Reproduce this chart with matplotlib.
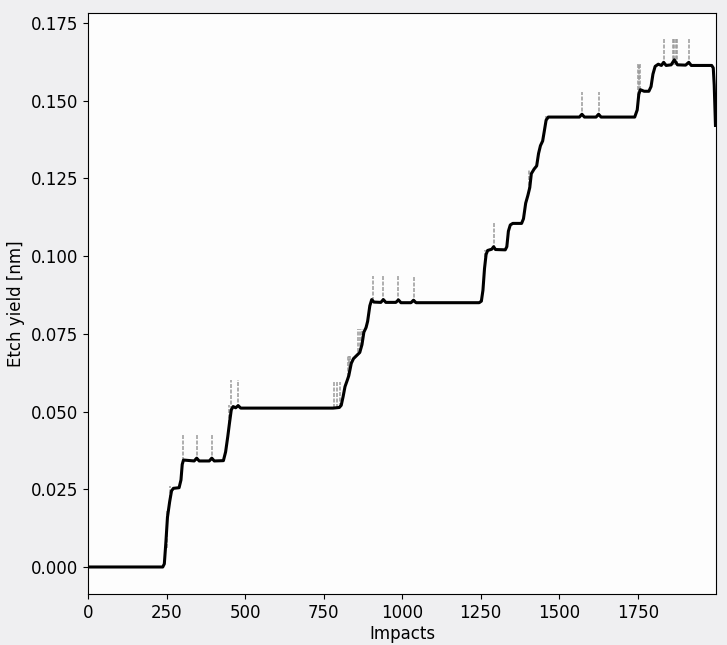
import numpy as np
import matplotlib
matplotlib.use("Agg")
import matplotlib.pyplot as plt

# smoothed etch yield (black curve)
impacts = [0, 238, 243, 248, 253, 260, 266, 272, 290, 296, 300, 304, 338, 346, 354,
           386, 394, 402, 431, 438, 445, 450, 456, 462, 470, 478, 486, 780, 790, 800,
           806, 812, 818, 825, 830, 838, 845, 855, 865, 872, 878, 885, 890, 897, 903,
           910, 932, 940, 948, 980, 988, 996, 1028, 1036, 1044, 1245, 1252, 1257, 1262,
           1267, 1272, 1285, 1291, 1297, 1328, 1333, 1338, 1344, 1352, 1380, 1386, 1393,
           1400, 1406, 1411, 1420, 1428, 1434, 1440, 1447, 1452, 1458, 1465, 1564, 1572,
           1580, 1617, 1625, 1633, 1740, 1748, 1753, 1758, 1770, 1785, 1792, 1798, 1805,
           1815, 1825, 1832, 1840, 1856, 1866, 1876, 1902, 1912, 1920, 1985, 1990, 1993,
           1997]
etch_yield = [0.0, 0.0, 0.001, 0.008, 0.016, 0.021, 0.0245, 0.0253, 0.0255, 0.028,
              0.033, 0.0344, 0.0341, 0.0350, 0.0341, 0.0341, 0.0350, 0.0341, 0.0342,
              0.037, 0.042, 0.046, 0.0505, 0.0516, 0.0512, 0.0519, 0.0511, 0.0511,
              0.0512, 0.0513, 0.052, 0.0548, 0.058, 0.060, 0.0615, 0.0655, 0.067, 0.068,
              0.069, 0.0715, 0.0755, 0.077, 0.079, 0.084, 0.0860, 0.0852, 0.0851,
              0.0860, 0.0851, 0.0851, 0.0859, 0.085, 0.085, 0.0858, 0.085, 0.085,
              0.0855, 0.089, 0.096, 0.1005, 0.1018, 0.1022, 0.1030, 0.1021, 0.102,
              0.103, 0.108, 0.110, 0.1105, 0.1105, 0.112, 0.117, 0.1195, 0.122, 0.1265,
              0.128, 0.129, 0.133, 0.1355, 0.137, 0.140, 0.1437, 0.1447, 0.1447, 0.1456,
              0.1447, 0.1447, 0.1456, 0.1447, 0.1447, 0.147, 0.152, 0.1535, 0.153,
              0.153, 0.1545, 0.1585, 0.161, 0.1617, 0.1613, 0.1623, 0.1613, 0.1615,
              0.1631, 0.1615, 0.1614, 0.1623, 0.1613, 0.1613, 0.1605, 0.155, 0.142]

# raw spikes (grey dashed), position, base and top
spike_x = [250, 262, 302, 346, 394, 448, 456, 478, 784, 793, 803, 829, 832, 835,
           860, 866, 872, 907, 940, 988, 1036, 1262, 1291, 1404, 1458, 1572, 1625,
           1752, 1755, 1758, 1832, 1862, 1866, 1870, 1874, 1912]
spike_base = [0.006, 0.022, 0.0342, 0.0342, 0.0342, 0.046, 0.0505, 0.0512, 0.0512,
              0.0512, 0.0513, 0.061, 0.062, 0.063, 0.069, 0.069, 0.071, 0.0855, 0.0852,
              0.0852, 0.085, 0.096, 0.1022, 0.121, 0.1437, 0.1447, 0.1447, 0.150,
              0.153, 0.1535, 0.1615, 0.1615, 0.1615, 0.1615, 0.1615, 0.1615]
spike_top = [0.018, 0.026, 0.0425, 0.0425, 0.0425, 0.052, 0.060, 0.060, 0.0594,
             0.0594, 0.0594, 0.068, 0.068, 0.068, 0.0767, 0.0767, 0.0767, 0.0935,
             0.0935, 0.0935, 0.0935, 0.102, 0.1107, 0.128, 0.1453, 0.1527, 0.1527,
             0.1617, 0.1617, 0.1617, 0.170, 0.170, 0.170, 0.170, 0.170, 0.170]

fig = plt.figure(figsize=(7.27, 6.45), dpi=100, facecolor='#efeff1')
ax = fig.add_axes([0.121, 0.079, 0.864, 0.901])
ax.set_facecolor('#fdfdfd')

sp = ax.vlines(spike_x, spike_base, spike_top, colors='0.6', lw=1.1)
sp.set_linestyle((0, (2.6, 1.0)))
ax.plot(impacts, etch_yield, color='black', lw=2.2)

ax.set_xlim(0, 1999)
ax.set_ylim(-0.0087, 0.1782)
ax.set_xticks(np.arange(0, 2000, 250))
ax.set_yticks(np.arange(0, 0.176, 0.025))
ax.yaxis.set_major_formatter(matplotlib.ticker.FormatStrFormatter('%.3f'))
ax.tick_params(labelsize=12)
ax.set_xlabel('Impacts', fontsize=12, labelpad=2)
ax.set_ylabel('Etch yield [nm]', fontsize=12)

fig.savefig('out.png', dpi=100, facecolor=fig.get_facecolor())
